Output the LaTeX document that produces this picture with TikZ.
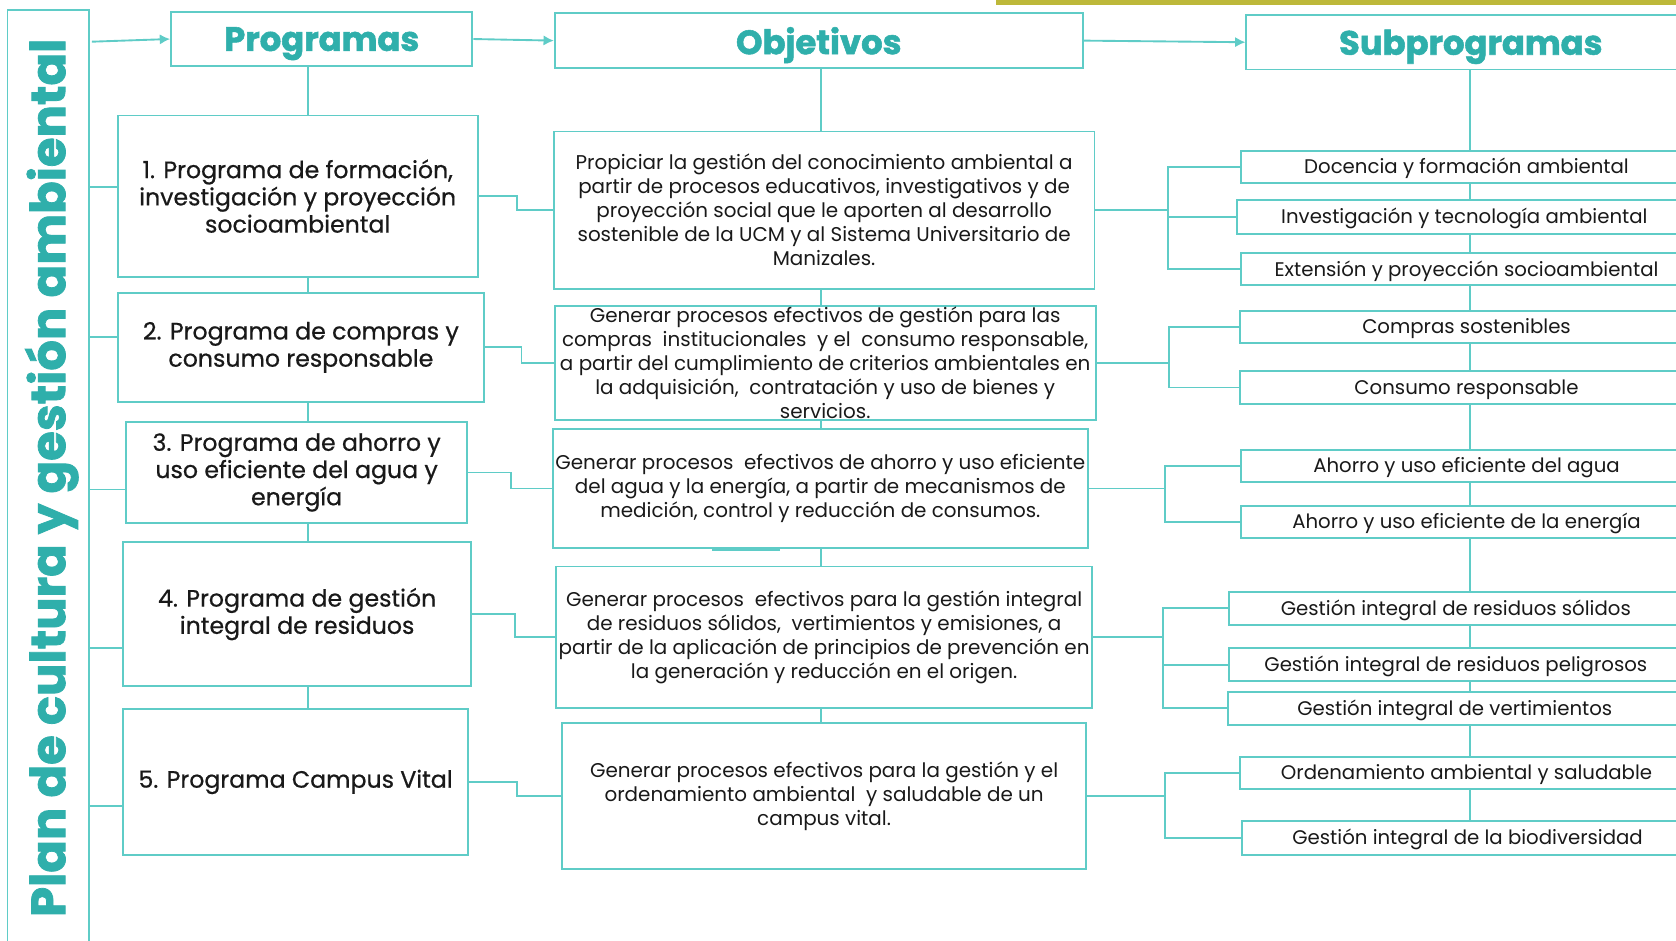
\documentclass[tikz,border=0pt]{standalone}
\usepackage{fontspec}
\setmainfont{Poppins}
\newfontfamily\progfont{Poppins}[FakeBold=0.6]
\newfontfamily\heavyfont{Poppins}[BoldFeatures={FakeBold=1.6}]
\usetikzlibrary{arrows.meta}

\definecolor{tealline}{HTML}{5FCCC7}
\definecolor{tealtext}{HTML}{2FAFAB}
\definecolor{olivebar}{HTML}{BDB83A}

\tikzset{
  box/.style={draw=tealline, line width=1pt, fill=white, inner sep=0pt, align=center, text=black!90},
  head/.style={box, font=\heavyfont\fontsize{18}{20}\selectfont\bfseries, text=tealtext, text depth=0pt},
  prog/.style={box, font=\progfont\fontsize{12.6}{14.5}\selectfont},
  obj/.style={box, font=\fontsize{10.6}{12.8}\selectfont},
  sub/.style={box, font=\fontsize{10.5}{11}\selectfont, text height=7.3pt, text depth=0pt},
  link/.style={draw=tealline, line width=1pt},
  arr/.style={link, -{Latex[length=5.5pt,width=5.5pt]}},
}

\begin{document}
\begin{tikzpicture}[x=0.02cm, y=-0.02cm]
  \useasboundingbox (0,0) rectangle (1568,880);
  \clip (0,0) rectangle (1568,880);
  \fill[olivebar] (932,0) rectangle (1580,4.5);

  % plan column
  \node[box, minimum width=1.52cm, minimum height=17.9cm] (plan) at (45,457) {};
  \node[rotate=90, anchor=base, inner sep=0pt, font=\heavyfont\fontsize{25.6}{26}\selectfont\bfseries, text=tealtext] (plantxt) at (61,447) {Plan de cultura y gestión ambiental};

  % headers
  \node[head, minimum width=5.64cm, minimum height=1.02cm] (hp) at (301,36.5) {Programas};
  \node[head, minimum width=9.88cm, minimum height=1.04cm] (ho) at (766,38) {Objetivos};
  \node[head, minimum width=8.40cm, minimum height=1.02cm] (hs) at (1376,39.5) {Subprogramas};

  \coordinate (a0) at (86,39);
  \draw[arr] (a0) -- (hp.west);
  \draw[arr] (hp.east) -- (ho.west);
  \draw[arr] (ho.east) -- (hs.west);

  % programas
  \node[prog, minimum width=6.74cm, minimum height=3.02cm] (p1) at (278.5,183.5) {1. Programa de formación,\\investigación y proyección\\socioambiental};
  \node[prog, minimum width=6.86cm, minimum height=2.04cm] (p2) at (281.5,325) {2. Programa de compras y\\consumo responsable};
  \node[prog, minimum width=6.38cm, minimum height=1.88cm] (p3) at (277.5,442) {3. Programa de ahorro y\\uso eficiente del agua y\\energía};
  \node[prog, minimum width=6.52cm, minimum height=2.70cm] (p4) at (278,574.5) {4. Programa de gestión\\integral de residuos};
  \node[prog, minimum width=6.46cm, minimum height=2.74cm] (p5) at (276.5,731.5) {5. Programa Campus Vital};

  % objetivos
  \node[obj, minimum width=10.12cm, minimum height=2.94cm] (o1) at (771,196.5) {Propiciar la gestión del conocimiento ambiental a\\partir de procesos educativos, investigativos y de\\proyección social que le aporten al desarrollo\\sostenible de la UCM y al Sistema Universitario de\\Manizales.};
  \node[obj, minimum width=10.12cm, minimum height=2.14cm] (o2) at (772,339.5) {Generar procesos efectivos de gestión para las\\compras\ \ institucionales\ \ y el\ \ consumo responsable,\\a partir del cumplimiento de criterios ambientales en\\la adquisición,\ \ contratación y uso de bienes y\\servicios.};
  \node[obj, minimum width=10.02cm, minimum height=2.24cm] (o3) at (767.5,457) {Generar procesos\ \ efectivos de ahorro y uso eficiente\\del agua y la energía, a partir de mecanismos de\\medición, control y reducción de consumos.};
  \node[obj, minimum width=10.04cm, minimum height=2.64cm] (o4) at (771,596) {Generar procesos\ \ efectivos para la gestión integral\\de residuos sólidos,\ \ vertimientos y emisiones, a\\partir de la aplicación de principios de prevención en\\la generación y reducción en el origen.};
  \node[obj, minimum width=9.80cm, minimum height=2.74cm] (o5) at (771,744.5) {Generar procesos efectivos para la gestión y el\\ordenamiento ambiental\ \ y saludable de un\\campus vital.};
  \draw[link, line width=2pt] (o3.south -| 666,0) -- (o3.south -| 730,0);

  % subprogramas
  \node[sub, minimum width=8.44cm, minimum height=0.60cm] (s11) at (1372,156) {Docencia y formación ambiental};
  \node[sub, minimum width=8.52cm, minimum height=0.64cm] (s12) at (1370,203) {Investigación y tecnología ambiental};
  \node[sub, minimum width=8.44cm, minimum height=0.60cm] (s13) at (1372,252) {Extensión y proyección socioambiental};
  \node[sub, minimum width=8.48cm, minimum height=0.60cm] (s21) at (1372,306) {Compras sostenibles};
  \node[sub, minimum width=8.48cm, minimum height=0.62cm] (s22) at (1372,362.5) {Consumo responsable};
  \node[sub, minimum width=8.44cm, minimum height=0.60cm] (s31) at (1372,436) {Ahorro y uso eficiente del agua};
  \node[sub, minimum width=8.44cm, minimum height=0.60cm] (s32) at (1372,488) {Ahorro y uso eficiente de la energía};
  \node[sub, minimum width=8.48cm, minimum height=0.62cm] (s41) at (1362,569) {Gestión integral de residuos sólidos};
  \node[sub, minimum width=8.48cm, minimum height=0.62cm] (s42) at (1362,622) {Gestión integral de residuos peligrosos};
  \node[sub, minimum width=8.48cm, minimum height=0.62cm] (s43) at (1361,662.5) {Gestión integral de vertimientos};
  \node[sub, minimum width=8.48cm, minimum height=0.60cm] (s51) at (1372,723) {Ordenamiento ambiental y saludable};
  \node[sub, minimum width=8.44cm, minimum height=0.64cm] (s52) at (1373,784) {Gestión integral de la biodiversidad};

  % spines
  \coordinate (ps) at (288,0);
  \coordinate (os) at (768,0);
  \coordinate (ss) at (1375,0);
  \foreach \a/\b in {hp/p1,p1/p2,p2/p3,p3/p4,p4/p5}
    \draw[link] (\a.south -| ps) -- (\b.north -| ps);
  \foreach \a/\b in {ho/o1,o1/o2,o2/o3,o3/o4,o4/o5}
    \draw[link] (\a.south -| os) -- (\b.north -| os);
  \foreach \a/\b in {hs/s11,s11/s12,s12/s13,s13/s21,s21/s22,s22/s31,s31/s32,s32/s41,s41/s42,s42/s43,s43/s51,s51/s52}
    \draw[link] (\a.south -| ss) -- (\b.north -| ss);

  % plan to programas
  \foreach \i/\y in {1/175,2/315,3/458,4/606,5/754}{
    \coordinate (b\i) at (83,\y);
    \draw[link] (b\i) -- (b\i -| p\i.west);
  }

  % programas to objetivos
  \foreach \i/\d in {1/36,2/34,3/40,4/40,5/45}
    \draw[link] (p\i.east) -- ++(\d,0) |- (o\i.west);

  % objetivos to subprogramas
  \foreach \i/\d in {1/68,2/68,3/71,4/65.5,5/73}
    \draw[link] (o\i.east) -- ++(\d,0) coordinate (k\i);
  \foreach \k/\s in {1/s11,1/s12,1/s13,2/s21,2/s22,3/s31,3/s32,4/s41,4/s42,4/s43,5/s51,5/s52}
    \draw[link] (k\k) |- (\s.west);
\end{tikzpicture}
\end{document}
